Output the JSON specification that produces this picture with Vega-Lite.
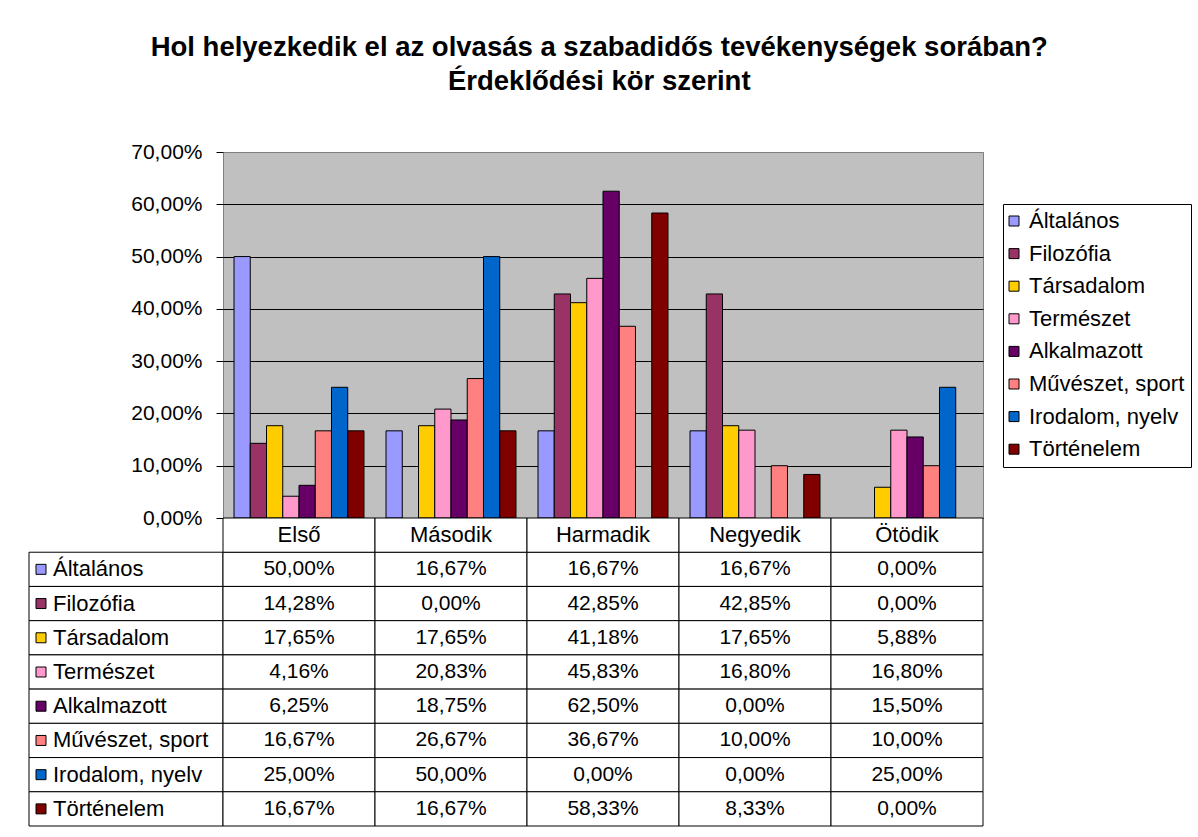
{
  "$schema": "https://vega.github.io/schema/vega-lite/v6.json",
  "background": "white",
  "padding": {"top": 34, "left": 28, "right": 2, "bottom": 2},
  "bounds": "flush",
  "align": "each",
  "columns": 2,
  "spacing": 0,
  "title": {
    "text": ["Hol helyezkedik el az olvasás a szabadidős tevékenységek sorában?", "Érdeklődési kör szerint"],
    "font": "Liberation Sans",
    "fontSize": 27.5,
    "fontWeight": "bold",
    "color": "black",
    "lineHeight": 34,
    "anchor": "middle",
    "frame": "bounds",
    "offset": 45,
    "dx": -11
  },
  "datasets": {
    "vals": [
      {"cat": "Első", "series": "Általános", "v": 0.5},
      {"cat": "Első", "series": "Filozófia", "v": 0.1428},
      {"cat": "Első", "series": "Társadalom", "v": 0.1765},
      {"cat": "Első", "series": "Természet", "v": 0.0416},
      {"cat": "Első", "series": "Alkalmazott", "v": 0.0625},
      {"cat": "Első", "series": "Művészet, sport", "v": 0.1667},
      {"cat": "Első", "series": "Irodalom, nyelv", "v": 0.25},
      {"cat": "Első", "series": "Történelem", "v": 0.1667},
      {"cat": "Második", "series": "Általános", "v": 0.1667},
      {"cat": "Második", "series": "Filozófia", "v": 0},
      {"cat": "Második", "series": "Társadalom", "v": 0.1765},
      {"cat": "Második", "series": "Természet", "v": 0.2083},
      {"cat": "Második", "series": "Alkalmazott", "v": 0.1875},
      {"cat": "Második", "series": "Művészet, sport", "v": 0.2667},
      {"cat": "Második", "series": "Irodalom, nyelv", "v": 0.5},
      {"cat": "Második", "series": "Történelem", "v": 0.1667},
      {"cat": "Harmadik", "series": "Általános", "v": 0.1667},
      {"cat": "Harmadik", "series": "Filozófia", "v": 0.4285},
      {"cat": "Harmadik", "series": "Társadalom", "v": 0.4118},
      {"cat": "Harmadik", "series": "Természet", "v": 0.4583},
      {"cat": "Harmadik", "series": "Alkalmazott", "v": 0.625},
      {"cat": "Harmadik", "series": "Művészet, sport", "v": 0.3667},
      {"cat": "Harmadik", "series": "Irodalom, nyelv", "v": 0},
      {"cat": "Harmadik", "series": "Történelem", "v": 0.5833},
      {"cat": "Negyedik", "series": "Általános", "v": 0.1667},
      {"cat": "Negyedik", "series": "Filozófia", "v": 0.4285},
      {"cat": "Negyedik", "series": "Társadalom", "v": 0.1765},
      {"cat": "Negyedik", "series": "Természet", "v": 0.168},
      {"cat": "Negyedik", "series": "Alkalmazott", "v": 0},
      {"cat": "Negyedik", "series": "Művészet, sport", "v": 0.1},
      {"cat": "Negyedik", "series": "Irodalom, nyelv", "v": 0},
      {"cat": "Negyedik", "series": "Történelem", "v": 0.0833},
      {"cat": "Ötödik", "series": "Általános", "v": 0},
      {"cat": "Ötödik", "series": "Filozófia", "v": 0},
      {"cat": "Ötödik", "series": "Társadalom", "v": 0.0588},
      {"cat": "Ötödik", "series": "Természet", "v": 0.168},
      {"cat": "Ötödik", "series": "Alkalmazott", "v": 0.155},
      {"cat": "Ötödik", "series": "Művészet, sport", "v": 0.1},
      {"cat": "Ötödik", "series": "Irodalom, nyelv", "v": 0.25},
      {"cat": "Ötödik", "series": "Történelem", "v": 0}
    ],
    "cats": [
      {"cat": "Első"}, {"cat": "Második"}, {"cat": "Harmadik"}, {"cat": "Negyedik"}, {"cat": "Ötödik"}
    ],
    "series": [
      {"series": "Általános"}, {"series": "Filozófia"}, {"series": "Társadalom"}, {"series": "Természet"},
      {"series": "Alkalmazott"}, {"series": "Művészet, sport"}, {"series": "Irodalom, nyelv"}, {"series": "Történelem"}
    ]
  },
  "resolve": {
    "scale": {"color": "independent", "x": "independent", "y": "independent", "xOffset": "independent"},
    "legend": {"color": "independent"},
    "axis": {"x": "independent", "y": "independent"}
  },
  "concat": [
    {
      "width": 194,
      "height": 366,
      "view": {"stroke": null},
      "data": {"values": []},
      "mark": {"type": "point", "opacity": 0}
    },
    {
      "width": 760,
      "height": 366,
      "view": {"fill": "#C0C0C0", "stroke": "#808080", "strokeWidth": 1},
      "data": {"name": "vals"},
      "transform": [{"filter": "datum.v > 0"}],
      "mark": {"type": "bar", "stroke": "black", "strokeWidth": 1},
      "encoding": {
        "x": {
          "field": "cat", "type": "nominal",
          "sort": ["Első", "Második", "Harmadik", "Negyedik", "Ötödik"],
          "scale": {"domain": ["Első", "Második", "Harmadik", "Negyedik", "Ötödik"], "paddingInner": 0.145, "paddingOuter": 0.0725},
          "axis": null
        },
        "xOffset": {
          "field": "series", "type": "nominal",
          "scale": {"domain": ["Általános", "Filozófia", "Társadalom", "Természet", "Alkalmazott", "Művészet, sport", "Irodalom, nyelv", "Történelem"], "paddingInner": 0, "paddingOuter": 0}
        },
        "y": {
          "field": "v", "type": "quantitative",
          "scale": {"domain": [0, 0.7], "nice": false},
          "axis": {
            "format": ".2%",
            "values": [0, 0.1, 0.2, 0.3, 0.4, 0.5, 0.6, 0.7],
            "title": null,
            "domain": false,
            "grid": true,
            "gridColor": {"condition": {"test": "datum.value >= 0.69", "value": "#808080"}, "value": "black"},
            "gridOpacity": 1,
            "gridWidth": 1,
            "tickColor": "black",
            "tickSize": 7,
            "tickWidth": 1,
            "labelFont": "Liberation Sans",
            "labelFontSize": 21,
            "labelColor": "black",
            "labelPadding": 14
          }
        },
        "color": {
          "field": "series", "type": "nominal",
          "scale": {
            "domain": ["Általános", "Filozófia", "Társadalom", "Természet", "Alkalmazott", "Művészet, sport", "Irodalom, nyelv", "Történelem"],
            "range": ["#9999FF", "#993366", "#FFCC00", "#FF99CC", "#660066", "#FF8080", "#0066CC", "#800000"]
          },
          "legend": {
            "orient": "none",
            "legendX": 780,
            "legendY": 52,
            "title": null,
            "symbolType": "square",
            "symbolSize": 100,
            "symbolStrokeColor": "black",
            "symbolStrokeWidth": 1,
            "symbolOpacity": 1,
            "symbolOffset": -6,
            "labelFont": "Liberation Sans",
            "labelFontSize": 22,
            "labelColor": "black",
            "labelLimit": 400,
            "labelOffset": 4,
            "rowPadding": 10.6,
            "padding": 6,
            "strokeColor": "black",
            "fillColor": "white"
          }
        }
      }
    },
    {
      "width": 194,
      "height": 308,
      "view": {"stroke": null},
      "data": {"name": "series"},
      "encoding": {
        "y": {
          "field": "series", "type": "nominal",
          "scale": {"domain": ["fejléc", "Általános", "Filozófia", "Társadalom", "Természet", "Alkalmazott", "Művészet, sport", "Irodalom, nyelv", "Történelem"], "paddingInner": 0, "paddingOuter": 0},
          "axis": null
        }
      },
      "layer": [
        {"mark": {"type": "rect", "fill": "white", "stroke": "black", "strokeWidth": 1}},
        {
          "mark": {"type": "square", "size": 100, "filled": true, "opacity": 1, "stroke": "black", "strokeWidth": 1, "xOffset": -85},
          "encoding": {
            "color": {
              "field": "series", "type": "nominal",
              "scale": {
                "domain": ["Általános", "Filozófia", "Társadalom", "Természet", "Alkalmazott", "Művészet, sport", "Irodalom, nyelv", "Történelem"],
                "range": ["#9999FF", "#993366", "#FFCC00", "#FF99CC", "#660066", "#FF8080", "#0066CC", "#800000"]
              },
              "legend": null
            }
          }
        },
        {
          "mark": {"type": "text", "align": "left", "dx": -73, "font": "Liberation Sans", "fontSize": 22, "color": "black"},
          "encoding": {"text": {"field": "series", "type": "nominal"}}
        }
      ]
    },
    {
      "width": 760,
      "height": 308,
      "view": {"stroke": null},
      "layer": [
        {
          "data": {"name": "vals"},
          "mark": {"type": "rect", "fill": "white", "stroke": "black", "strokeWidth": 1},
          "encoding": {
            "x": {"field": "cat", "type": "nominal", "scale": {"domain": ["Első", "Második", "Harmadik", "Negyedik", "Ötödik"], "paddingInner": 0, "paddingOuter": 0}, "axis": null},
            "y": {"field": "series", "type": "nominal", "scale": {"domain": ["fejléc", "Általános", "Filozófia", "Társadalom", "Természet", "Alkalmazott", "Művészet, sport", "Irodalom, nyelv", "Történelem"], "paddingInner": 0, "paddingOuter": 0}, "axis": null}
          }
        },
        {
          "data": {"name": "vals"},
          "mark": {"type": "text", "font": "Liberation Sans", "fontSize": 21, "color": "black"},
          "encoding": {
            "x": {"field": "cat", "type": "nominal"},
            "y": {"field": "series", "type": "nominal"},
            "text": {"field": "v", "type": "quantitative", "format": ".2%"}
          }
        },
        {
          "data": {"name": "cats"},
          "mark": {"type": "rect", "fill": "white", "stroke": "black", "strokeWidth": 1},
          "encoding": {
            "x": {"field": "cat", "type": "nominal"},
            "y": {"datum": "fejléc", "type": "nominal"}
          }
        },
        {
          "data": {"name": "cats"},
          "mark": {"type": "text", "font": "Liberation Sans", "fontSize": 22, "color": "black"},
          "encoding": {
            "x": {"field": "cat", "type": "nominal"},
            "y": {"datum": "fejléc", "type": "nominal"},
            "text": {"field": "cat", "type": "nominal"}
          }
        }
      ]
    }
  ],
  "config": {
    "font": "Liberation Sans",
    "locale": {"number": {"decimal": ",", "thousands": " ", "grouping": [3], "currency": ["", " Ft"]}}
  }
}
